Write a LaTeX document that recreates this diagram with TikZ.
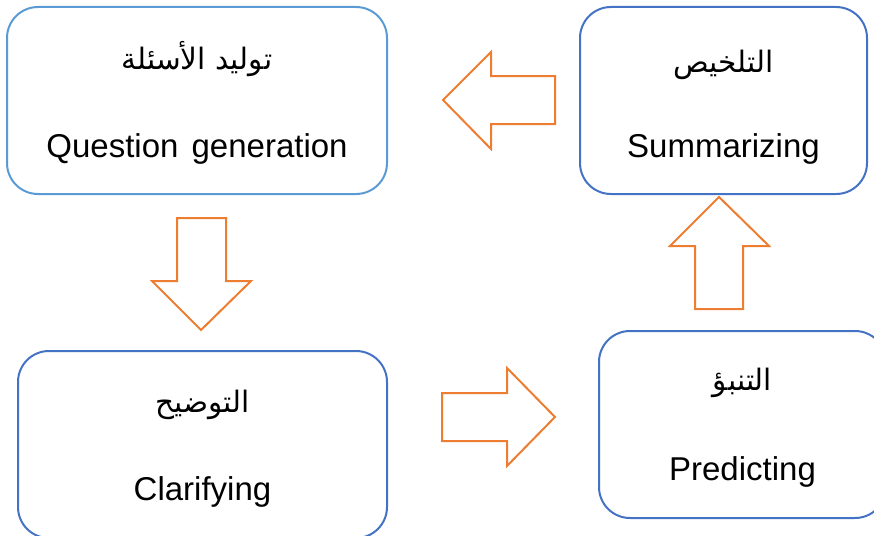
\documentclass[tikz,border=0pt]{standalone}
\usepackage{fontspec}
\setmainfont{Liberation Sans}
\newfontfamily\arabicfont[Script=Arabic]{DejaVu Sans}
\TeXXeTstate=1
\definecolor{lightblue}{HTML}{5B9BD5}
\definecolor{darkblue}{HTML}{4472C4}
\definecolor{arrorange}{HTML}{ED7D31}
\tikzset{
  box/.style={draw=darkblue, line width=2pt, rounded corners=31pt, fill=white, inner sep=0pt},
  entxt/.style={anchor=base, inner sep=0pt, font=\fontsize{33}{40}\selectfont},
  artxt/.style={anchor=base, inner sep=0pt, font=\arabicfont\fontsize{29.5}{36}\selectfont},
  blockarrow/.style={draw=arrorange, line width=2pt, fill=white, line join=miter}
}
\begin{document}
\begin{tikzpicture}[x=1pt, y=-1pt]
\useasboundingbox (0,0) rectangle (874,535);
% boxes
\node[box, draw=lightblue, minimum width=380pt, minimum height=187pt] (qg) at (197,100.5) {};
\node[box, minimum width=287pt, minimum height=187pt] (sum) at (723.5,100.5) {};
\node[box, minimum width=369pt, minimum height=187pt] (cla) at (202.5,444.5) {};
\node[box, minimum width=287pt, minimum height=187pt] (pre) at (742.5,424.5) {};
% texts
\node[artxt] (qgar) at (197,70) {\beginR توليد الأسئلة\endR};
\node[entxt] (qgen) at (197,157) {Question\hspace{4pt} generation};
\node[artxt] (sumar) at (723.5,72) {\beginR التلخيص\endR};
\node[entxt] (sumen) at (723.5,157) {Summarizing};
\node[artxt] (claar) at (202.5,412) {\beginR التوضيح\endR};
\node[entxt] (claen) at (202.5,500) {Clarifying};
\node[artxt] (prear) at (742.5,390) {\beginR التنبؤ\endR};
\node[entxt] (preen) at (742.5,480) {Predicting};
% block arrows
% left arrow (Summarizing -> Question generation)
\draw[blockarrow] (443,100) -- (491,52) -- (491,76) -- (555,76) -- (555,124) -- (491,124) -- (491,149) -- cycle;
% down arrow (Question generation -> Clarifying)
\draw[blockarrow] (201,330) -- (152,281) -- (177,281) -- (177,218) -- (226,218) -- (226,281) -- (251,281) -- cycle;
% right arrow (Clarifying -> Predicting)
\draw[blockarrow] (555,417) -- (507,368) -- (507,393) -- (442,393) -- (442,441) -- (507,441) -- (507,466) -- cycle;
% up arrow (Predicting -> Summarizing)
\draw[blockarrow] (719,197) -- (670,246) -- (695,246) -- (695,309) -- (743,309) -- (743,246) -- (769,246) -- cycle;
\end{tikzpicture}
\end{document}
